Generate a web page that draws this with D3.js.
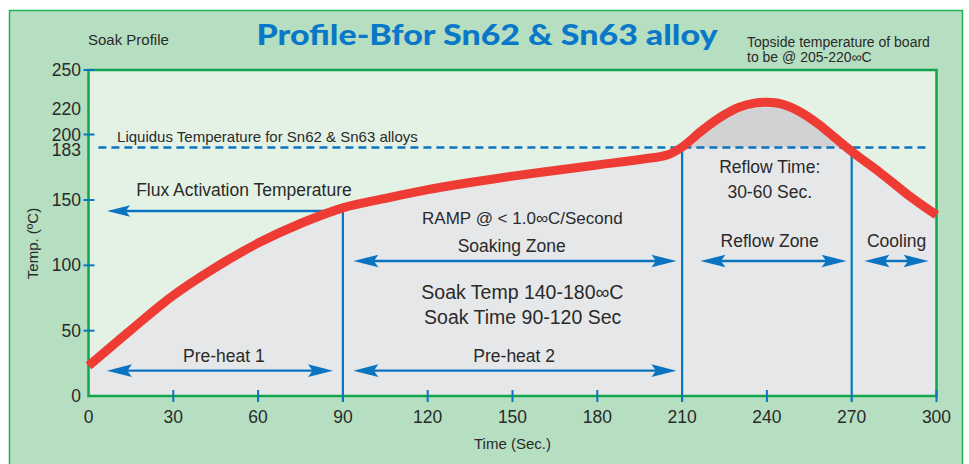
<!DOCTYPE html>
<html><head><meta charset="utf-8">
<script src="https://cdn.jsdelivr.net/npm/d3@7"></script>
<style>body{margin:0;background:#fff}svg{display:block}text{font-family:"Liberation Sans",Arial,sans-serif;fill:#2a2a2a}</style>
</head><body>
<script>
// ---- data ----
const timeSec = [0, 15, 30, 45, 60, 75, 90, 105, 120, 135, 150, 165, 180, 195, 205, 210, 217, 224, 230, 236, 240, 245, 251, 258, 264, 270, 280, 290, 300];
const tempC   = [23, 50.5, 77, 98.5, 117, 132, 144, 151, 156.5, 161, 165, 168.5, 172, 175.5, 178.5, 183.5, 203, 214, 221, 224.5, 225, 223.8, 218.5, 208.5, 196, 180.5, 167.3, 153.1, 138.5];
const xTicks = [0, 30, 60, 90, 120, 150, 180, 210, 240, 270, 300];
const xTickMarks = [30, 60, 120, 150, 180, 240, 300];
const yTickLabels = [250, 220, 200, 183, 150, 100, 50, 0];
const yTickMarks = [250, 200, 150, 100, 50];
const liquidusTemp = 183;
const liquidusSpan = [3.5, 297.5];
const fluxTemp = 141.6;
const zoneBounds = [90, 210, 270];
const spanLabels = ["Pre-heat 1", "Pre-heat 2", "Soaking Zone", "Reflow Zone", "Cooling"];
const spanFrom   = [6.5, 93.7, 93.7, 216.5, 274.5];
const spanTo     = [86.5, 208, 208, 268.2, 297.2];
const spanTemp   = [19.4, 19.4, 103.3, 103.3, 103.3];
const fluxArrow = {from: 90, to: 6.6, temp: fluxTemp};
const notes = [
  {text: "Flux Activation Temperature", t: 55.0, v: 152.5, anchor: "middle", size: 17.5},
  {text: "Liquidus Temperature for Sn62 & Sn63 alloys", t: 10.1, v: 190.6, anchor: "start", size: 15},
  {text: "RAMP @ < 1.0∞C/Second", t: 153.5, v: 131.6, anchor: "middle", size: 17},
  {text: "Soaking Zone", t: 149.7, v: 110, anchor: "middle", size: 17.5},
  {text: "Soak Temp 140-180∞C", t: 153.5, v: 74.2, anchor: "middle", size: 19.5},
  {text: "Soak Time 90-120 Sec", t: 153.6, v: 55.1, anchor: "middle", size: 19.5},
  {text: "Pre-heat 1", t: 47.9, v: 26.2, anchor: "middle", size: 17.5},
  {text: "Pre-heat 2", t: 150.6, v: 26.2, anchor: "middle", size: 17.5},
  {text: "Reflow Time:", t: 241, v: 167.2, anchor: "middle", size: 17.5},
  {text: "30-60 Sec.", t: 241, v: 151.4, anchor: "middle", size: 17.5},
  {text: "Reflow Zone", t: 241, v: 114.3, anchor: "middle", size: 17.5},
  {text: "Cooling", t: 285.9, v: 114.3, anchor: "middle", size: 17.5}
];
const title = "Profile-Bfor Sn62 & Sn63 alloy";
const subtitleLeft = "Soak Profile";
const noteTopRight = ["Topside temperature of board", "to be @ 205-220∞C"];
const xTitle = "Time (Sec.)";
const yTitle = "Temp. (ºC)";

// ---- styles ----
const BLUE = "#0b74c0", GREEN = "#12a54b", RED = "#ee3b33";
const W = 969, H = 464;
const svg = d3.select("body").append("svg").attr("width", W).attr("height", H);

const x = d3.scaleLinear().domain([0, 300]).range([88.5, 936.5]);
const y = d3.scaleLinear().domain([0, 150, 183, 200, 250]).range([396, 200, 147.5, 134.5, 70]);

// outer frame
svg.append("rect").attr("x", 9.5).attr("y", 10.5).attr("width", 953).attr("height", 480)
  .attr("fill", "#b6dfc1").attr("stroke", "#22b04f").attr("stroke-width", 1.5);

// plot background
svg.append("rect").attr("x", x(0)).attr("y", y(250)).attr("width", x(300) - x(0)).attr("height", y(0) - y(250))
  .attr("fill", "#e4f2e6");

const pts = timeSec.map((t, i) => ({t, v: tempC[i]}));
const curve = d3.curveCatmullRom.alpha(0.5);
const area = d3.area().x(d => x(d.t)).y0(y(0)).y1(d => y(d.v)).curve(curve);
svg.append("path").attr("d", area(pts)).attr("fill", "#e6e7e9");
svg.append("clipPath").attr("id", "aboveLiq").append("rect")
  .attr("x", x(0)).attr("y", y(250)).attr("width", x(300) - x(0)).attr("height", y(liquidusTemp) - y(250));
svg.append("path").attr("d", area(pts)).attr("fill", "#d1d2d4").attr("clip-path", "url(#aboveLiq)");

// frame
svg.append("rect").attr("x", x(0)).attr("y", y(250)).attr("width", x(300) - x(0)).attr("height", y(0) - y(250))
  .attr("fill", "none").attr("stroke", GREEN).attr("stroke-width", 2.5);

// liquidus dashed line
svg.append("line").attr("x1", x(liquidusSpan[0])).attr("x2", x(liquidusSpan[1]))
  .attr("y1", y(liquidusTemp)).attr("y2", y(liquidusTemp))
  .attr("stroke", BLUE).attr("stroke-width", 2.5).attr("stroke-dasharray", "8,5");

// zone boundaries
zoneBounds.forEach(t => {
  const top = t === 90 ? y(fluxTemp) : y(liquidusTemp);
  svg.append("line").attr("x1", x(t)).attr("x2", x(t)).attr("y1", top).attr("y2", y(0) + 6)
    .attr("stroke", BLUE).attr("stroke-width", 2.2);
});

// ticks
xTickMarks.forEach(t => svg.append("line").attr("x1", x(t)).attr("x2", x(t)).attr("y1", y(0) - 6).attr("y2", y(0) + 6)
  .attr("stroke", BLUE).attr("stroke-width", 2));
yTickMarks.forEach(v => svg.append("line").attr("x1", x(0) - 5).attr("x2", x(0) + 6).attr("y1", y(v)).attr("y2", y(v))
  .attr("stroke", BLUE).attr("stroke-width", 2));

// arrows
function head(tipX, tipY, dir, len, hw) {
  const p = d3.path();
  p.moveTo(tipX, tipY);
  p.lineTo(tipX + dir * len, tipY - hw);
  p.lineTo(tipX + dir * (len - 4.5), tipY);
  p.lineTo(tipX + dir * len, tipY + hw);
  p.closePath();
  svg.append("path").attr("d", p.toString()).attr("fill", BLUE);
}
spanLabels.forEach((lab, i) => {
  const x1 = x(spanFrom[i]), x2 = x(spanTo[i]), yy = y(spanTemp[i]);
  svg.append("line").attr("x1", x1 + 10).attr("x2", x2 - 10).attr("y1", yy).attr("y2", yy)
    .attr("stroke", BLUE).attr("stroke-width", 2.4);
  head(x1, yy, 1, 25, 6.3);
  head(x2, yy, -1, 25, 6.3);
});
{
  const yy = y(fluxArrow.temp);
  svg.append("line").attr("x1", x(fluxArrow.to) + 10).attr("x2", x(fluxArrow.from)).attr("y1", yy).attr("y2", yy)
    .attr("stroke", BLUE).attr("stroke-width", 2.4);
  head(x(fluxArrow.to), yy, 1, 23, 5.8);
}

// curve
const line = d3.line().x(d => x(d.t)).y(d => y(d.v)).curve(curve);
svg.append("path").attr("d", line(pts)).attr("fill", "none").attr("stroke", RED).attr("stroke-width", 9);

// axis labels
yTickLabels.forEach(v => svg.append("text").attr("x", 81).attr("y", y(v) + (v === 183 ? 2.5 : 0)).attr("dy", "0.35em")
  .attr("text-anchor", "end").attr("font-size", 17.5).text(v));
xTicks.forEach(t => svg.append("text").attr("x", x(t)).attr("y", y(0) + 27)
  .attr("text-anchor", "middle").attr("font-size", 17.5).text(t));
svg.append("text").attr("x", x(150)).attr("y", 449).attr("text-anchor", "middle").attr("font-size", 15).text(xTitle);
svg.append("text").attr("transform", "translate(32.5,243.5) rotate(-90)").attr("dy", "0.35em")
  .attr("text-anchor", "middle").attr("font-size", 15).text(yTitle);

// notes
notes.forEach(n => {
  svg.append("text").attr("x", x(n.t)).attr("y", y(n.v)).attr("text-anchor", n.anchor).attr("font-size", n.size).text(n.text);
});

// title and corner texts
svg.append("text").attr("x", 256.5).attr("y", 45).attr("textLength", 461).attr("lengthAdjust", "spacingAndGlyphs")
  .attr("font-size", 28).attr("font-weight", 900).style("font-family", "Lato, 'Open Sans', sans-serif")
  .style("fill", "#0a78c8").text(title);
svg.append("text").attr("x", 88).attr("y", 45).attr("font-size", 15).text(subtitleLeft);
noteTopRight.forEach((s, i) => {
  svg.append("text").attr("x", 747).attr("y", 47 + i * 15).attr("font-size", 14).text(s);
});
</script>
</body></html>
